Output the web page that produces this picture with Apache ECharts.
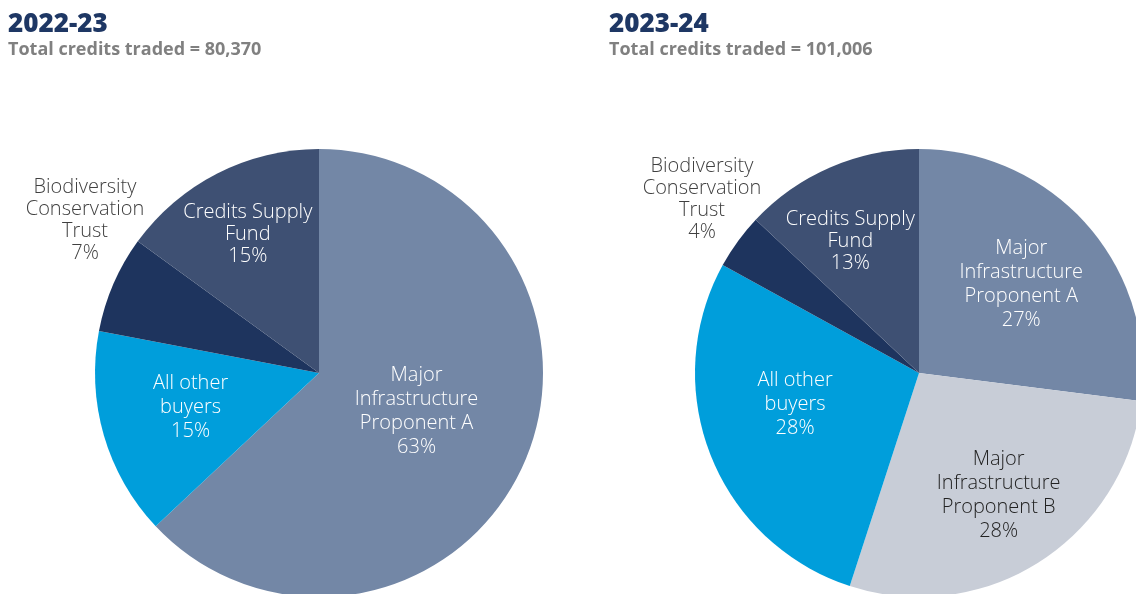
<!DOCTYPE html>
<html>
<head>
<meta charset="utf-8">
<script src="https://cdn.jsdelivr.net/npm/echarts@6/dist/echarts.min.js"></script>
<style>
html,body{margin:0;padding:0;background:#fff;}
#c{width:1136px;height:594px;}
</style>
</head>
<body>
<div id="c"></div>
<script>
// ---- data ----
const titles = ['2022-23', '2023-24'];
const subtitles = ['Total credits traded = 80,370', 'Total credits traded = 101,006'];
const categories2223 = ['Major\nInfrastructure\nProponent A', 'All other\nbuyers', 'Biodiversity\nConservation\nTrust', 'Credits Supply\nFund'];
const values2223 = [63, 15, 7, 15];
const categories2324 = ['Major\nInfrastructure\nProponent A', 'Major\nInfrastructure\nProponent B', 'All other\nbuyers', 'Biodiversity\nConservation\nTrust', 'Credits Supply\nFund'];
const values2324 = [27, 28, 28, 4, 13];

// ---- styles ----
const colorMap = {
  'Major\nInfrastructure\nProponent A': '#7387A6',
  'Major\nInfrastructure\nProponent B': '#C8CDD7',
  'All other\nbuyers': '#009EDB',
  'Biodiversity\nConservation\nTrust': '#1E345E',
  'Credits Supply\nFund': '#3E5073'
};
const FONT = '"Open Sans", Lato, sans-serif';

function buildData(cats, vals) {
  return cats.map((c, i) => {
    const d = { name: c, value: vals[i], itemStyle: { color: colorMap[c] } };
    if (c.indexOf('Biodiversity') === 0) {
      d.label = { position: 'outside', color: '#404040', lineHeight: 22 };
      d.labelLine = { show: false };
    } else if (c.indexOf('Proponent B') >= 0) {
      d.label = { color: '#222222' };
    } else if (c.indexOf('Credits') === 0) {
      d.label = { lineHeight: 22 };
    }
    return d;
  });
}

// label nudges (dx, dy) per slice; outside label absolute position
const nudgeLeft = [[-8, -7], [-18, 2], null, [-19, -36]];
const outLeft = [85, 220];
const nudgeRight = [[16, -13], [18, 25], [-17, -11], null, [-23, -26]];
const outRight = [702, 199];

function makeLayout(nudges, outPos) {
  return function (p) {
    const n = nudges[p.dataIndex];
    if (!n) {
      return { x: outPos[0], y: outPos[1], align: 'center', verticalAlign: 'middle' };
    }
    return { dx: n[0], dy: n[1] };
  };
}

const baseLabel = {
  show: true,
  position: 'inside',
  color: '#ffffff',
  fontFamily: FONT,
  fontSize: 20,
  fontWeight: 300,
  lineHeight: 24,
  align: 'center',
  formatter: p => p.name + '\n' + p.value + '%'
};

const titleStyle = { fontFamily: FONT, fontSize: 26, fontWeight: 800, color: '#1E3764' };
const subStyle = { fontFamily: FONT, fontSize: 18, fontWeight: 700, color: '#808080' };

const chart = echarts.init(document.getElementById('c'), null, { renderer: 'canvas' });
chart.setOption({
  animation: false,
  title: [
    { text: titles[0], subtext: subtitles[0], left: 3, top: 7, padding: [5, 5, 5, 5],
      textStyle: titleStyle, subtextStyle: subStyle, itemGap: 3 },
    { text: titles[1], subtext: subtitles[1], left: 604, top: 7, padding: [5, 5, 5, 5],
      textStyle: titleStyle, subtextStyle: subStyle, itemGap: 3 }
  ],
  series: [
    {
      type: 'pie', center: [319, 373], radius: 224, startAngle: 90, clockwise: true,
      silent: true, avoidLabelOverlap: false,
      label: baseLabel, labelLine: { show: false },
      itemStyle: { borderWidth: 0 },
      labelLayout: makeLayout(nudgeLeft, outLeft),
      data: buildData(categories2223, values2223)
    },
    {
      type: 'pie', center: [919, 373], radius: 224, startAngle: 90, clockwise: true,
      silent: true, avoidLabelOverlap: false,
      label: baseLabel, labelLine: { show: false },
      itemStyle: { borderWidth: 0 },
      labelLayout: makeLayout(nudgeRight, outRight),
      data: buildData(categories2324, values2324)
    }
  ]
});
</script>
</body>
</html>
